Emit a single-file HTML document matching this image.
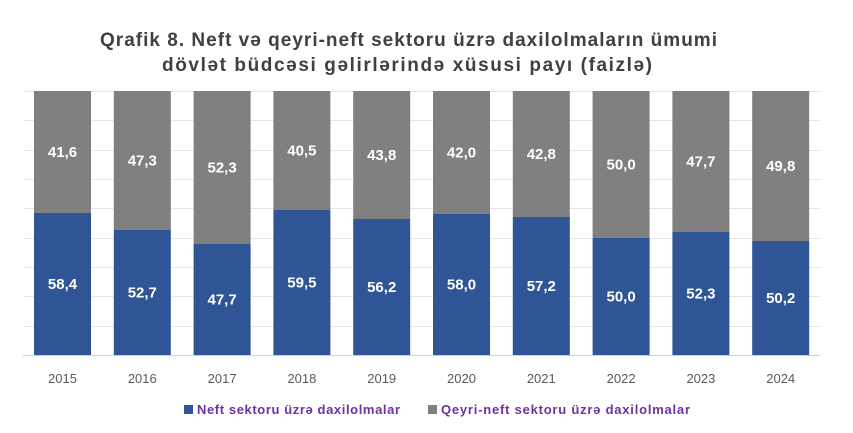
<!DOCTYPE html>
<html><head><meta charset="utf-8"><style>
body{margin:0;background:#fff;width:853px;height:428px;overflow:hidden;font-family:"Liberation Sans",sans-serif}
</style></head><body>
<svg width="853" height="428" xmlns="http://www.w3.org/2000/svg" font-family="Liberation Sans, sans-serif">
<text x="100" y="46" font-size="19" font-weight="bold" fill="#404040" textLength="617" lengthAdjust="spacing">Qrafik 8. Neft və qeyri-neft sektoru üzrə daxilolmaların ümumi</text>
<text x="162" y="71" font-size="19" font-weight="bold" fill="#404040" textLength="490" lengthAdjust="spacing">dövlət büdcəsi gəlirlərində xüsusi payı (faizlə)</text>
<g stroke="#e6e6e6" stroke-width="1">
<line x1="23" x2="820" y1="91.5" y2="91.5"/><line x1="23" x2="820" y1="120.5" y2="120.5"/><line x1="23" x2="820" y1="150.5" y2="150.5"/><line x1="23" x2="820" y1="179.5" y2="179.5"/><line x1="23" x2="820" y1="208.5" y2="208.5"/><line x1="23" x2="820" y1="238.5" y2="238.5"/><line x1="23" x2="820" y1="267.5" y2="267.5"/><line x1="23" x2="820" y1="296.5" y2="296.5"/><line x1="23" x2="820" y1="326.5" y2="326.5"/>
</g>
<line x1="23" x2="820" y1="355.5" y2="355.5" stroke="#d0d0d0"/>
<g fill="#808080">
<rect x="34" y="91" width="57" height="122"/>
<rect x="113.8" y="91" width="57" height="139"/>
<rect x="193.6" y="91" width="57" height="153"/>
<rect x="273.4" y="91" width="57" height="119"/>
<rect x="353.2" y="91" width="57" height="128"/>
<rect x="433" y="91" width="57" height="123"/>
<rect x="512.8" y="91" width="57" height="126"/>
<rect x="592.6" y="91" width="57" height="147"/>
<rect x="672.4" y="91" width="57" height="141"/>
<rect x="752.2" y="91" width="57" height="150"/>
</g>
<g fill="#2f5597">
<rect x="34" y="213" width="57" height="142"/>
<rect x="113.8" y="230" width="57" height="125"/>
<rect x="193.6" y="244" width="57" height="111"/>
<rect x="273.4" y="210" width="57" height="145"/>
<rect x="353.2" y="219" width="57" height="136"/>
<rect x="433" y="214" width="57" height="141"/>
<rect x="512.8" y="217" width="57" height="138"/>
<rect x="592.6" y="238" width="57" height="117"/>
<rect x="672.4" y="232" width="57" height="123"/>
<rect x="752.2" y="241" width="57" height="114"/>
</g>
<g font-size="15" font-weight="bold" fill="#fff" text-anchor="middle">
<text x="62.5" y="157">41,6</text><text x="62.5" y="289">58,4</text>
<text x="142.3" y="165.5">47,3</text><text x="142.3" y="297.5">52,7</text>
<text x="222.1" y="172.5">52,3</text><text x="222.1" y="304.5">47,7</text>
<text x="301.9" y="155.5">40,5</text><text x="301.9" y="287.5">59,5</text>
<text x="381.7" y="160">43,8</text><text x="381.7" y="292">56,2</text>
<text x="461.5" y="157.5">42,0</text><text x="461.5" y="289.5">58,0</text>
<text x="541.3" y="159">42,8</text><text x="541.3" y="291">57,2</text>
<text x="621.1" y="169.5">50,0</text><text x="621.1" y="301.5">50,0</text>
<text x="700.9" y="166.5">47,7</text><text x="700.9" y="298.5">52,3</text>
<text x="780.7" y="171">49,8</text><text x="780.7" y="303">50,2</text>
</g>
<g font-size="13" fill="#595959" text-anchor="middle">
<text x="62.5" y="383">2015</text><text x="142.3" y="383">2016</text><text x="222.1" y="383">2017</text><text x="301.9" y="383">2018</text><text x="381.7" y="383">2019</text><text x="461.5" y="383">2020</text><text x="541.3" y="383">2021</text><text x="621.1" y="383">2022</text><text x="700.9" y="383">2023</text><text x="780.7" y="383">2024</text>
</g>
<rect x="184" y="405" width="9" height="9" fill="#2f5597"/>
<text x="197" y="414" font-size="13" font-weight="bold" fill="#7030a0" textLength="203" lengthAdjust="spacing">Neft sektoru üzrə daxilolmalar</text>
<rect x="428" y="405" width="9" height="9" fill="#808080"/>
<text x="441" y="414" font-size="13" font-weight="bold" fill="#7030a0" textLength="249" lengthAdjust="spacing">Qeyri-neft sektoru üzrə daxilolmalar</text>
</svg>
</body></html>
